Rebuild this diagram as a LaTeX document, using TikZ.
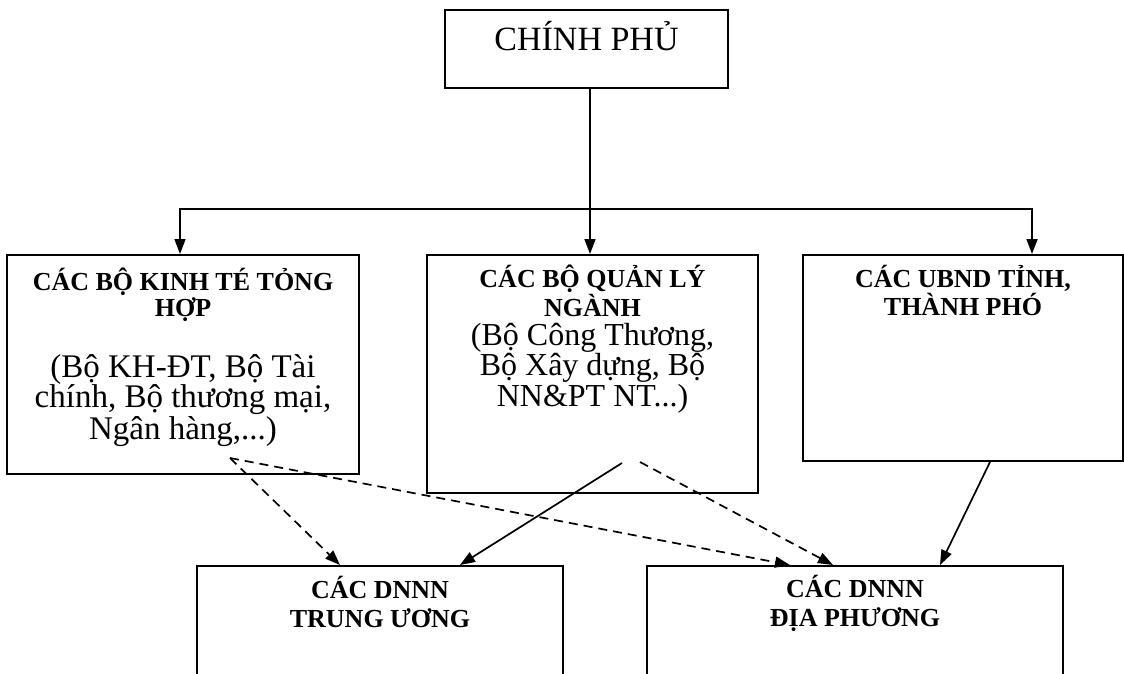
\documentclass[tikz,border=0pt]{standalone}
\usepackage{fontspec}
\setmainfont{Liberation Serif}
\usetikzlibrary{arrows.meta,positioning}

\begin{document}
\begin{tikzpicture}[x=1pt,y=-1pt,
	box/.style={draw, line width=2pt, inner sep=0pt},
	title/.style={font=\bfseries\fontsize{26}{26}\selectfont, align=center, anchor=base},
	body/.style={font=\fontsize{33}{30}\selectfont, align=center, anchor=base},
	arr/.style={line width=1.7pt, -{Triangle[length=15pt,width=11pt]}},
	dasharr/.style={arr, dash pattern=on 9pt off 6pt}]
	
	\clip (0,0) rectangle (1124,673);
	
	% boxes
	\node[box, minimum width=283pt, minimum height=78pt] (gov) at (586.5,49) {};
	\node[box, minimum width=352pt, minimum height=219pt] (kt) at (183,364.5) {};
	\node[box, minimum width=331pt, minimum height=238pt] (ql) at (592.5,374) {};
	\node[box, minimum width=320pt, minimum height=206pt] (ubnd) at (963,358) {};
	\node[box, minimum width=366pt, minimum height=160pt] (tw) at (380,646) {};
	\node[box, minimum width=416pt, minimum height=160pt] (dp) at (855,646) {};
	
	% texts (base = last line)
	\node[body, font=\fontsize{34}{34}\selectfont] (govtxt) at (586.5,50) {CHÍNH PHỦ};
	\node[title] (kttitle) at (183,316) {CÁC BỘ KINH TÉ TỎNG\\HỢP};
	\node[body] (ktbody) at (183,439) {(Bộ KH-ĐT, Bộ Tài\\chính, Bộ thương mại,\\Ngân hàng,...)};
	\node[title] (qltitle) at (592.5,316) {CÁC BỘ QUẢN LÝ\\NGÀNH};
	\node[body, font=\fontsize{32}{28.5}\selectfont] (qlbody) at (592.5,406) {(Bộ Công Thương,\\Bộ Xây dựng, Bộ\\NN\&PT NT...)};
	\node[title] (ubndtitle) at (963,315) {CÁC UBND TỈNH,\\THÀNH PHÓ};
	\node[title, font=\bfseries\fontsize{26}{29}\selectfont] (twtitle) at (380,627) {CÁC DNNN\\TRUNG ƯƠNG};
	\node[title, font=\bfseries\fontsize{26}{29}\selectfont] (dptitle) at (855,626) {CÁC DNNN\\ĐỊA PHƯƠNG};
	
	% connectors
	\coordinate (bus) at (590,209);
	\draw[arr] (gov.south -| bus) -- (ql.north -| bus);
	\draw[arr] (bus) -| ([xshift=-3pt]kt.north);
	\draw[arr] (bus) -| ([xshift=69pt]ubnd.north);
	
	\coordinate (ktout) at (230,458);
	\draw[dasharr] (ktout) -- ([xshift=-40pt]tw.north);
	\draw[dasharr] (ktout) -- ([xshift=-65pt]dp.north);
	
	\coordinate (qlout) at (622,463);
	\coordinate (qlout2) at (640,462);
	\draw[arr] (qlout) -- ([xshift=80pt]tw.north);
	\draw[dasharr] (qlout2) -- ([xshift=-22pt]dp.north);
	
	\draw[arr] ([xshift=27pt]ubnd.south) -- ([xshift=85pt]dp.north);
\end{tikzpicture}
\end{document}
